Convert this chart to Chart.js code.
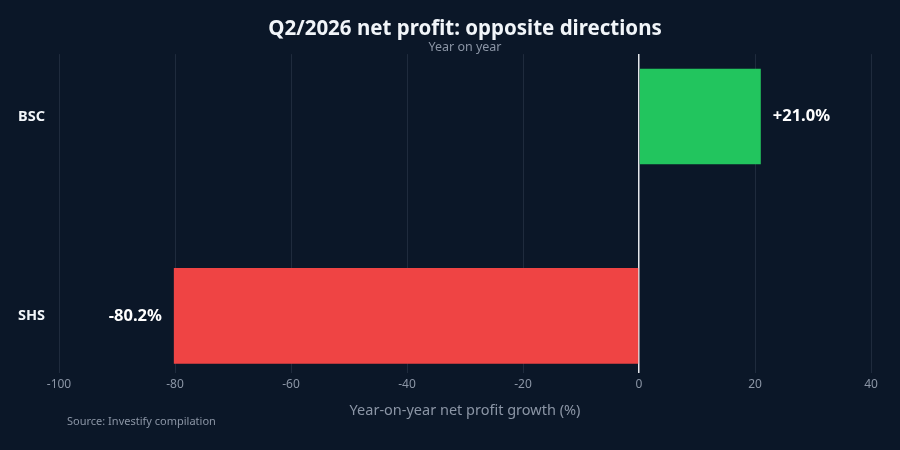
<!DOCTYPE html>
<html>
<head>
<meta charset="utf-8">
<script src="https://cdn.jsdelivr.net/npm/chart.js@4.4.1/dist/chart.umd.min.js"></script>
<style>
  html, body { margin: 0; padding: 0; background: #0b1728; }
  #wrap { width: 900px; height: 450px; }
</style>
</head>
<body>
<div id="wrap"><canvas id="chart" width="900" height="450"></canvas></div>
<script>
const companies = ['BSC', 'SHS'];
const growth = [21.0, -80.2];
const barColors = ['#22c55e', '#ef4444'];

const valueLabels = {
    id: 'valueLabels',
    afterDatasetsDraw(chart) {
        const ctx = chart.ctx;
        const meta = chart.getDatasetMeta(0);
        ctx.save();
        ctx.font = 'bold 16.5px "Noto Sans"';
        ctx.fillStyle = '#ffffff';
        ctx.textBaseline = 'middle';
        meta.data.forEach((bar, i) => {
            const v = growth[i];
            const txt = (v > 0 ? '+' : '') + v.toFixed(1) + '%';
            if (v >= 0) {
                ctx.textAlign = 'left';
                ctx.fillText(txt, bar.x + 12, bar.y);
            } else {
                ctx.textAlign = 'right';
                ctx.fillText(txt, bar.x - 12, bar.y);
            }
        });
        ctx.restore();
    }
};

const sourceNote = {
    id: 'sourceNote',
    afterDraw(chart) {
        const ctx = chart.ctx;
        ctx.save();
        ctx.font = '11px "Noto Sans"';
        ctx.fillStyle = '#8b95a5';
        ctx.textAlign = 'left';
        ctx.textBaseline = 'middle';
        ctx.fillText('Source: Investify compilation', 67, 422);
        ctx.restore();
    }
};

const ctx = document.getElementById('chart').getContext('2d');
new Chart(ctx, {
    type: 'bar',
    data: {
        datasets: [{
            data: growth.map((v, i) => ({ x: v, y: i })),
            backgroundColor: barColors,
            borderWidth: 0,
            categoryPercentage: 1,
            barPercentage: 0.48,
        }],
    },
    options: {
        indexAxis: 'y',
        responsive: false,
        animation: false,
        layout: { padding: { left: 18, right: 29, top: 12, bottom: 30 } },
        plugins: {
            legend: { display: false },
            tooltip: { enabled: false },
            title: {
                display: true,
                text: 'Q2/2026 net profit: opposite directions',
                color: '#f1f5f9',
                font: { family: 'Noto Sans', size: 20.5, weight: 'bold' },
                fullSize: false,
                padding: { top: 5, bottom: 0 }
            },
            subtitle: {
                display: true,
                text: 'Year on year',
                color: '#8b95a5',
                font: { family: 'Noto Sans', size: 12.5, lineHeight: 1.0 },
                fullSize: false,
                padding: { top: 0, bottom: 0 }
            }
        },
        scales: {
            x: {
                type: 'linear',
                min: -100,
                max: 40,
                ticks: {
                    stepSize: 20,
                    color: '#8b95a5',
                    font: { family: 'Noto Sans', size: 12 },
                    padding: 4
                },
                grid: {
                    color: c => c.tick && c.tick.value === 0 ? '#e5e7eb' : '#1f2b3d',
                    lineWidth: c => c.tick && c.tick.value === 0 ? 1.5 : 1,
                    drawTicks: false
                },
                border: { display: false },
                title: {
                    display: true,
                    text: 'Year-on-year net profit growth (%)',
                    color: '#8b95a5',
                    font: { family: 'Noto Sans', size: 14.5 },
                    padding: { top: 7, bottom: 0 }
                }
            },
            y: {
                type: 'linear',
                reverse: true,
                offset: false,
                min: -0.313,
                max: 1.288,
                afterBuildTicks: axis => { axis.ticks = companies.map((c, i) => ({ value: i })); },
                afterFit: axis => { axis.width = 41; },
                ticks: {
                    callback: v => companies[v],
                    color: '#f1f5f9',
                    font: { family: 'Noto Sans', size: 14.5, weight: 'bold' },
                    crossAlign: 'far',
                    padding: 14
                },
                grid: { display: false, offset: false },
                border: { display: false }
            }
        }
    },
    plugins: [valueLabels, sourceNote]
});
</script>
</body>
</html>
